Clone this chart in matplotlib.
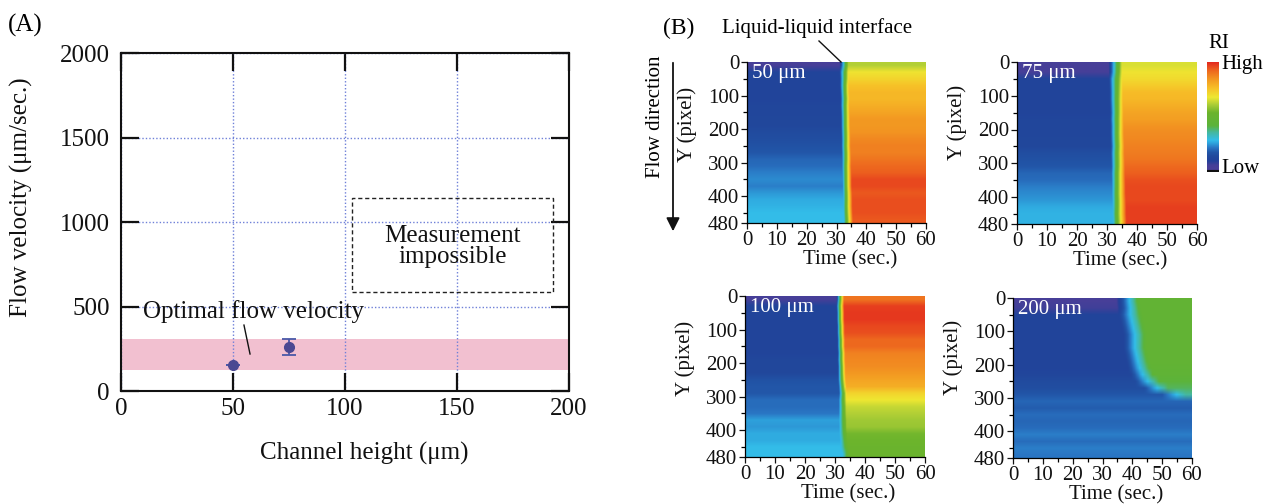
import numpy as np
import matplotlib
matplotlib.use("Agg")
import matplotlib.pyplot as plt
from matplotlib.colors import LinearSegmentedColormap
from matplotlib.patches import Rectangle

plt.rcParams['font.family'] = ['Liberation Serif', 'DejaVu Serif']
plt.rcParams['mathtext.default'] = 'regular'

# ---------------- Panel A data ----------------
channel_height = [50, 75]
flow_velocity = [151, 258]
velocity_err = [0, 47]
optimal_band = [124, 307]
impossible_box_x = [103.3, 192.7]
impossible_box_y = [585, 1144]

# ---------------- Panel B data (colour-scale units 0..1) ----------------
panel_labels = ["50 μm", "75 μm", "100 μm", "200 μm"]
row_edges = list(range(0, 481, 20))  # 24 row bands of 20 px

left_50 = [0.05, 0.12, 0.12, 0.12, 0.12, 0.12, 0.13, 0.13, 0.14, 0.14, 0.15, 0.16,
           0.17, 0.18, 0.20, 0.21, 0.23, 0.24, 0.23, 0.25, 0.27, 0.28, 0.29, 0.29]
right_50 = [0.62, 0.69, 0.72, 0.76, 0.78, 0.78, 0.80, 0.82, 0.84, 0.84, 0.85, 0.87,
            0.88, 0.88, 0.90, 0.92, 0.93, 0.96, 0.96, 0.94, 0.95, 0.95, 0.95, 0.94]
iface_50 = [31.0, 31.0, 31.1, 31.1, 31.2, 31.3, 31.3, 31.4, 31.5, 31.5, 31.6, 31.7,
            31.7, 31.8, 31.9, 31.9, 32.0, 32.1, 32.1, 32.2, 32.3, 32.3, 32.4, 32.5]

left_75 = [0.05, 0.06, 0.12, 0.12, 0.12, 0.12, 0.12, 0.12, 0.13, 0.13, 0.13, 0.14,
           0.14, 0.16, 0.17, 0.18, 0.20, 0.21, 0.23, 0.24, 0.25, 0.27, 0.28, 0.28]
right_75 = [0.66, 0.69, 0.71, 0.74, 0.77, 0.78, 0.80, 0.82, 0.83, 0.85, 0.86, 0.87,
            0.88, 0.89, 0.90, 0.92, 0.93, 0.95, 0.96, 0.96, 0.96, 0.97, 0.97, 0.97]
iface_75 = [30.5, 30.6, 30.6, 30.7, 30.8, 30.8, 30.9, 31.0, 31.0, 31.1, 31.1, 31.2,
            31.3, 31.3, 31.4, 31.5, 31.5, 31.6, 31.7, 31.7, 31.8, 31.9, 31.9, 32.0]

left_100 = [0.06, 0.12, 0.12, 0.12, 0.12, 0.12, 0.12, 0.12, 0.12, 0.14, 0.14, 0.14,
            0.17, 0.18, 0.18, 0.21, 0.21, 0.22, 0.26, 0.25, 0.27, 0.27, 0.29, 0.29]
right_100 = [0.90, 0.97, 0.98, 0.98, 0.96, 0.95, 0.92, 0.92, 0.88, 0.87, 0.86, 0.84,
             0.82, 0.80, 0.72, 0.68, 0.64, 0.62, 0.60, 0.59, 0.55, 0.54, 0.53, 0.53]
iface_100 = [30.5, 30.5, 30.6, 30.6, 30.7, 30.7, 30.8, 30.8, 30.9, 30.9, 31.0, 31.0,
             31.1, 31.3, 31.4, 31.3, 31.3, 31.3, 31.4, 31.4, 31.5, 31.7, 32.0, 32.5]

left_200 = [0.05, 0.07, 0.12, 0.12, 0.12, 0.12, 0.12, 0.12, 0.12, 0.12, 0.12, 0.13,
            0.15, 0.16, 0.18, 0.20, 0.19, 0.21, 0.20, 0.21, 0.23, 0.21, 0.23, 0.22]
right_200 = [0.47, 0.47, 0.47, 0.47, 0.47, 0.47, 0.47, 0.47, 0.47, 0.47, 0.46, 0.45,
             0.42, 0.40, 0.36, 0.20, 0.19, 0.21, 0.20, 0.21, 0.23, 0.21, 0.23, 0.22]
iface_200 = [34.5, 35.0, 35.5, 36.0, 36.5, 37.0, 37.0, 37.0, 37.5, 38.0, 38.5, 39.5,
             41.0, 44.0, 50.0, 60.0, 60.0, 60.0, 60.0, 60.0, 60.0, 60.0, 60.0, 60.0]

ramp_width = [3.0, 4.5, 2.5, 8.0]

panels = [(left_50, right_50, iface_50), (left_75, right_75, iface_75),
          (left_100, right_100, iface_100), (left_200, right_200, iface_200)]

ytick_major = [0, 100, 200, 300, 400, 480]
ytick_minor = [50, 150, 250, 350, 450]
xtick_major = [0, 10, 20, 30, 40, 50, 60]
xtick_minor = [5, 15, 25, 35, 45, 55]

cmap = LinearSegmentedColormap.from_list("ri", [
    (0.00, '#2a2050'), (0.02, '#4a3f98'), (0.06, '#463f98'), (0.10, '#22419a'),
    (0.14, '#21489c'), (0.18, '#2256a8'), (0.22, '#2a76c4'), (0.26, '#2ea2dc'),
    (0.29, '#33bde9'), (0.36, '#45b8a0'), (0.42, '#5cb33a'), (0.54, '#6cb42c'),
    (0.61, '#a9cc36'), (0.68, '#eee832'), (0.76, '#f7c228'), (0.84, '#f39a22'),
    (0.92, '#ee6a1f'), (1.00, '#e3281e')])

W, H = 1264, 504
fig = plt.figure(figsize=(W / 100, H / 100), dpi=100)


def rect(l, t, r, b):
    return [l / W, 1 - b / H, (r - l) / W, (b - t) / H]


# ---------------- Panel A ----------------
axA = fig.add_axes(rect(121, 53, 569, 391))
axA.axhspan(optimal_band[0], optimal_band[1], color='#f2c0d0', lw=0, zorder=1)
axA.errorbar(channel_height, flow_velocity, yerr=velocity_err, fmt='o', ms=7,
             color='#4b4892', ecolor='#4a58a8', elinewidth=1.3, capsize=5,
             capthick=1.3, zorder=5)
axA.set_xlim(0, 200)
axA.set_ylim(0, 2000)
axA.set_xticks([0, 50, 100, 150, 200])
axA.set_yticks([0, 500, 1000, 1500, 2000])
axA.grid(True, color='#6f80d8', linestyle=(0, (1, 1.5)), lw=1.0)
axA.tick_params(direction='in', length=13, width=1.6, top=True, right=True,
                labelsize=18, colors='#111111')
axA.tick_params(axis='y', pad=8)
axA.tick_params(axis='x', pad=5)
for s in axA.spines.values():
    s.set_linewidth(1.5)
    s.set_color('#111111')
axA.add_patch(Rectangle((impossible_box_x[0], impossible_box_y[0]),
                        impossible_box_x[1] - impossible_box_x[0],
                        impossible_box_y[1] - impossible_box_y[0],
                        fill=False, ls=(0, (3, 2)), lw=1.0, ec='#222222', zorder=4))
axA.text(148, 855, "Measurement\nimpossible", ha='center', va='center',
         fontsize=18, linespacing=0.95, color='#111111')
axA.text(9.7, 468, "Optimal flow velocity", ha='left', va='center', fontsize=18,
         color='#111111')
axA.plot([54.9, 57.6], [390, 219], color='#111111', lw=1.0)
axA.set_xlabel("Channel height (μm)", fontsize=18, color='#111111')
axA.xaxis.set_label_coords(0.542, -0.15)
fig.text(21 / W, 1 - 197 / H, "Flow velocity (μm/sec.)", rotation=90,
         ha='center', va='center', fontsize=18, color='#111111')
fig.text(25 / W, 1 - 25 / H, "(A)", ha='center', va='center', fontsize=18)

# ---------------- Panel B ----------------
boxes = [(747, 62, 926, 223), (1017, 62, 1197, 224),
         (745, 296, 925, 457), (1013, 298, 1192, 458)]
label_y = [0.61, 0.63, 0.615, 0.63]
tcols = np.linspace(0, 60, 601)
for i, ((l, t, r, b), (lv, rv, tf)) in enumerate(zip(boxes, panels)):
    ax = fig.add_axes(rect(l, t, r, b))
    lv = np.array(lv)[:, None]
    rv = np.array(rv)[:, None]
    tf = np.array(tf)[:, None]
    frac = np.clip((tcols[None, :] - tf) / ramp_width[i], 0, 1)
    img = lv + (rv - lv) * frac
    ax.imshow(img, extent=[0, 60, row_edges[-1], row_edges[0]], aspect='auto',
              cmap=cmap, vmin=0, vmax=1, interpolation='bilinear')
    ax.set_xlim(0, 60)
    ax.set_ylim(480, 0)
    ax.set_xticks(xtick_major)
    ax.set_xticks(xtick_minor, minor=True)
    ax.set_yticks(ytick_major)
    ax.set_yticks(ytick_minor, minor=True)
    ax.tick_params(direction='out', length=4, width=0.9, labelsize=15, pad=1.5,
                   colors='#111111')
    ax.tick_params(which='minor', direction='out', length=3, width=0.9)
    for side in ['top', 'right']:
        ax.spines[side].set_visible(False)
    for side in ['left', 'bottom']:
        ax.spines[side].set_linewidth(0.9)
    ax.set_xlabel("Time (sec.)", fontsize=15, color='#111111')
    ax.xaxis.set_label_coords(0.575, -0.17)
    ax.set_ylabel("Y (pixel)", fontsize=15, color='#111111')
    ax.yaxis.set_label_coords(-0.28, label_y[i])
    ax.text(0.03, 0.93, panel_labels[i], transform=ax.transAxes, ha='left',
            va='center', fontsize=15, color='white')

# colour bar
axc = fig.add_axes(rect(1207, 62, 1219, 172))
grad = np.linspace(1, 0, 256)[:, None]
axc.imshow(grad, aspect='auto', cmap=cmap, vmin=0, vmax=1, extent=[0, 1, 0, 1])
axc.set_xticks([])
axc.set_yticks([])
for s in axc.spines.values():
    s.set_visible(False)
axc.axhline(0.005, color='#111111', lw=1.5)
fig.text(1219 / W, 1 - 44 / H, "RI", ha='center', va='center', fontsize=15)
fig.text(1221 / W, 1 - 64 / H, "High", ha='left', va='center', fontsize=15)
fig.text(1221 / W, 1 - 169 / H, "Low", ha='left', va='center', fontsize=15)

# labels and annotations
fig.text(679 / W, 1 - 28 / H, "(B)", ha='center', va='center', fontsize=17)
fig.text(817 / W, 1 - 28 / H, "Liquid-liquid interface", ha='center',
         va='center', fontsize=15)
fig.add_artist(plt.Line2D([819 / W, 841 / W], [1 - 41 / H, 1 - 62 / H],
                          color='#111111', lw=1.0))
fig.text(655 / W, 1 - 117 / H, "Flow direction", rotation=90, ha='center',
         va='center', fontsize=15)
fig.add_artist(matplotlib.patches.FancyArrowPatch(
    (673 / W, 1 - 60 / H), (673 / W, 1 - 234 / H), transform=fig.transFigure,
    arrowstyle='-|>', mutation_scale=20, color='#111111', lw=1.3))

fig.savefig("out.png", dpi=100)
